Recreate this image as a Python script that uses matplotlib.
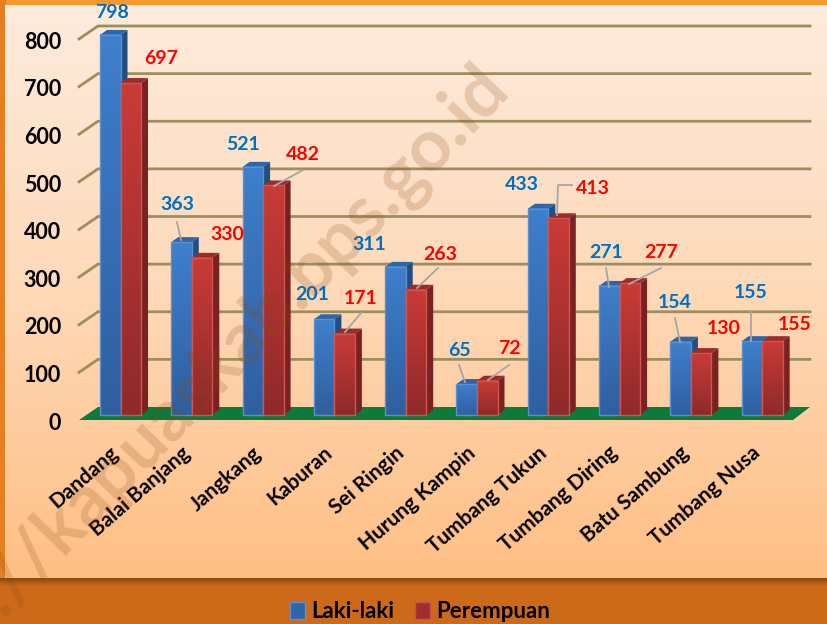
import numpy as np
import matplotlib
matplotlib.use('Agg')
import matplotlib.pyplot as plt
from matplotlib.colors import LinearSegmentedColormap
from matplotlib.patches import Patch
from matplotlib.transforms import ScaledTranslation

categories = ['Dandang', 'Balai Banjang', 'Jangkang', 'Kaburan', 'Sei Ringin',
              'Hurung Kampin', 'Tumbang Tukun', 'Tumbang Diring', 'Batu Sambung', 'Tumbang Nusa']
laki = [798, 363, 521, 201, 311, 65, 433, 271, 154, 155]
perempuan = [697, 330, 482, 171, 263, 72, 413, 277, 130, 155]
y_ticks = [0, 100, 200, 300, 400, 500, 600, 700, 800]

# label centres in image pixels
blue_pos = [(112, 12), (177, 204), (243, 145), (312, 294), (369, 245),
            (459, 350), (522, 184), (606, 253), (675, 303), (751, 293)]
red_pos = [(161, 59), (227, 234), (303, 155), (361, 299), (440, 254),
           (509, 349), (593, 188), (661, 253), (724, 328), (795, 324)]
leaders = [[(177, 222), (181, 240)], [(303, 170), (274, 186)], [(361, 313), (345, 332)],
           [(438, 268), (417, 288)], [(459, 365), (465, 382)], [(509, 365), (488, 380)],
           [(572, 185), (558, 185), (557, 215)], [(606, 268), (609, 287)],
           [(661, 268), (629, 284)], [(675, 318), (680, 342)], [(751, 311), (751, 341)]]

W, H = 827, 624
FONT = 'Lato'
plt.rcParams['font.family'] = [FONT, 'DejaVu Sans']
plt.rcParams['font.weight'] = 'bold'

# plot box in pixels
BOX_L, BOX_R, BOX_T, BOX_B = 79, 810, 34, 415
CAT_STEP = 71.3
CAT_X0 = 120.5
BAR_W = 20.5
DEPTH_X, DEPTH_Y = 7, 5


def draw_background(fig):
    bg = fig.add_axes([0, 0, 1, 1], zorder=0)
    bg.set_xlim(0, W)
    bg.set_ylim(H, 0)
    bg.axis('off')
    bg.add_patch(plt.Rectangle((0, 0), W, H, color='#CC6A1A', zorder=1))
    bg.add_patch(plt.Rectangle((0, 0), W, 5, color='#F9982F', zorder=2))
    bg.add_patch(plt.Rectangle((0, 0), 5, 580, color='#E67F22', zorder=2))
    shadow = LinearSegmentedColormap.from_list('s', ['#8A4A12', '#CC6A1A'])
    bg.imshow(np.linspace(0, 1, 20).reshape(-1, 1), extent=(0, W, 586, 578), cmap=shadow,
              aspect='auto', zorder=3)
    panel = LinearSegmentedColormap.from_list('p', ['#FDEBDD', '#FED9B8', '#FFBF85'])
    bg.imshow(np.linspace(0, 1, 200).reshape(-1, 1), extent=(5, W, 578, 5), cmap=panel,
              aspect='auto', zorder=4)
    bg.set_xlim(0, W)
    bg.set_ylim(H, 0)
    return bg


def bar_3d(ax, x_left, val, width, top_col, bottom_col, edge, side, roof, dx, dy):
    grad = LinearSegmentedColormap.from_list('g', [top_col, bottom_col])
    x_right = x_left + width
    ax.fill([x_right, x_right + dx, x_right + dx, x_right],
            [0, dy, val + dy, val], color=side, lw=0, clip_on=False, zorder=3)
    ax.fill([x_left, x_left + dx, x_right + dx, x_right],
            [val, val + dy, val + dy, val], color=roof, lw=0, clip_on=False, zorder=3)
    ax.imshow(np.linspace(0, 1, 100).reshape(-1, 1), extent=(x_left, x_right, 0, val),
              cmap=grad, aspect='auto', clip_on=False, zorder=3)
    ax.bar(x_left + width / 2, val, width, facecolor='none', edgecolor=edge, lw=1.0,
           clip_on=False, zorder=3)


def main():
    fig = plt.figure(figsize=(W / 100, H / 100), dpi=100)
    bg = draw_background(fig)

    ax = fig.add_axes([BOX_L / W, 1 - BOX_B / H, (BOX_R - BOX_L) / W, (BOX_B - BOX_T) / H], zorder=1)
    ax.patch.set_visible(False)
    x0 = (BOX_L - CAT_X0) / CAT_STEP
    x1 = (BOX_R - CAT_X0) / CAT_STEP
    y_per_px = 800 / (BOX_B - BOX_T)
    x_per_px = 1 / CAT_STEP
    dx = DEPTH_X * x_per_px
    dy = DEPTH_Y * y_per_px
    w = BAR_W * x_per_px

    # floor and walls
    floor_front = -5 * y_per_px
    floor_back = 8 * y_per_px
    back_x = x0 + 19 * x_per_px
    ax.fill([x0, back_x, x1, x0 + 714 * x_per_px], [floor_front, floor_back, floor_back, floor_front],
            color='#0B7A3B', lw=0, clip_on=False, zorder=1)
    for t in y_ticks[1:]:
        ax.plot([x0, back_x, x1], [t + floor_front, t + floor_back, t + floor_back],
                color='#9C8F5C', lw=2, clip_on=False, zorder=1, solid_joinstyle='miter')

    for i in range(len(categories)):
        bar_3d(ax, i - w, laki[i], w, '#3F7FCC', '#2F5F9F', '#5B8FD0', '#234E80', '#2F66A6', dx, dy)
        bar_3d(ax, i, perempuan[i], w, '#C93B37', '#8E2A2A', '#D05551', '#7A2222', '#9C2C2C', dx, dy)

    ax.set_xlim(x0, x1)
    ax.set_ylim(0, 800)
    for s in ax.spines.values():
        s.set_visible(False)
    ax.tick_params(length=0)
    ax.set_yticks(y_ticks)
    ax.set_yticklabels([str(t) for t in y_ticks], fontsize=15.5, color='black')
    ax.tick_params(axis='y', pad=13)
    down = ScaledTranslation(0, -4.5 / 72, fig.dpi_scale_trans)
    for lab in ax.get_yticklabels():
        lab.set_transform(lab.get_transform() + down)
    ax.set_xticks(range(len(categories)))
    ax.set_xticklabels(categories, rotation=41, ha='right', va='top', rotation_mode='anchor',
                       fontsize=15, color='black')
    ax.tick_params(axis='x', pad=20)
    left = ScaledTranslation(-8 / 72, 0, fig.dpi_scale_trans)
    for lab in ax.get_xticklabels():
        lab.set_transform(lab.get_transform() + left)

    # data labels and leaders sit in pixel coords on the top layer
    top = fig.add_axes([0, 0, 1, 1], zorder=2)
    top.set_xlim(0, W)
    top.set_ylim(H, 0)
    top.axis('off')
    for pts in leaders:
        top.plot([p[0] for p in pts], [p[1] for p in pts], color='#A6A6A6', lw=1.3)
    for v, p in zip(laki, blue_pos):
        top.text(p[0], p[1], str(v), color='#0070C0', fontsize=14, ha='center', va='center')
    for v, p in zip(perempuan, red_pos):
        top.text(p[0], p[1], str(v), color='#FF0000', fontsize=14, ha='center', va='center')
    top.text(497, 76, 'https://kapuaskab.bps.go.id', color='#8A4A12', alpha=0.2, fontsize=52,
             rotation=46, ha='right', va='center', rotation_mode='anchor')

    handles = [Patch(facecolor='#2F66A6', edgecolor='#5B8FD0', label='Laki-laki'),
               Patch(facecolor='#A12E2E', edgecolor='#C85050', label='Perempuan')]
    fig.legend(handles=handles, loc='center', bbox_to_anchor=(420 / W, 1 - 612 / H), ncol=2, frameon=False,
               fontsize=16, handlelength=0.68, handleheight=0.8, handletextpad=0.3, columnspacing=0.9)

    fig.savefig('out.png', dpi=100)


if __name__ == '__main__':
    main()
